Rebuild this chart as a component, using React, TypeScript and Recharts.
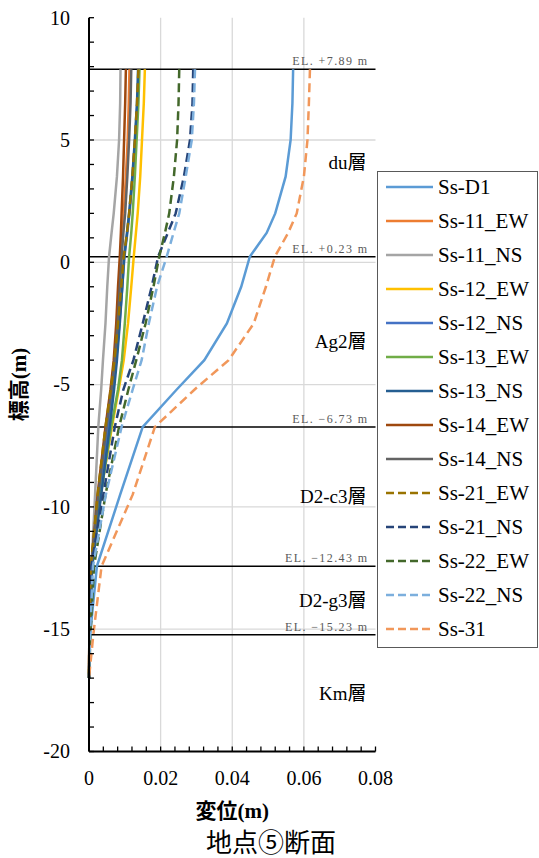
import React from 'react';
import {
  LineChart,
  Line,
  XAxis,
  YAxis,
  CartesianGrid,
  ReferenceLine,
  ReferenceDot,
  Legend,
  Label,
} from 'recharts';

// elevation (m) of every sampled point, top to bottom
const elevations = [7.89, 6.5, 5, 3.5, 2, 1.2, 0.23, -1, -2.5, -4, -5.2, -6.73, -9.5, -12.43, -15.23, -17];

// displacement (m) of each wave at those elevations
const ssD1 = [0.057, 0.0568, 0.0563, 0.0549, 0.052, 0.0496, 0.0449, 0.0425, 0.0385, 0.0322, 0.0245, 0.015, 0.0087, 0.0022, 0.0003, 0];
const ss11EW = [0.0113, 0.0111, 0.0108, 0.0103, 0.0097, 0.0094, 0.009, 0.0085, 0.0079, 0.0071, 0.0062, 0.0048, 0.0025, 0.0006, 0.0001, 0];
const ss11NS = [0.0088, 0.0087, 0.0084, 0.0078, 0.0069, 0.0063, 0.0056, 0.0051, 0.0046, 0.0039, 0.0034, 0.0026, 0.0017, 0.0007, 0.0001, 0];
const ss12EW = [0.0156, 0.0153, 0.0148, 0.0143, 0.0136, 0.0131, 0.0125, 0.0118, 0.0109, 0.0097, 0.0083, 0.0064, 0.0032, 0.0007, 0.0002, 0];
const ss12NS = [0.0139, 0.0135, 0.0129, 0.0122, 0.0113, 0.0107, 0.0099, 0.0093, 0.0085, 0.0076, 0.0067, 0.0054, 0.0031, 0.0008, 0.0002, 0];
const ss13EW = [0.0141, 0.0138, 0.0133, 0.0128, 0.0122, 0.0118, 0.0112, 0.0107, 0.01, 0.0092, 0.0081, 0.0062, 0.0033, 0.0008, 0.0002, 0];
const ss13NS = [0.0137, 0.0134, 0.0128, 0.0121, 0.0112, 0.0106, 0.0098, 0.0093, 0.0086, 0.0078, 0.007, 0.0058, 0.0034, 0.0009, 0.0002, 0];
const ss14EW = [0.0103, 0.0101, 0.0098, 0.0095, 0.0091, 0.0089, 0.0086, 0.0081, 0.0076, 0.0069, 0.006, 0.0046, 0.0024, 0.0006, 0.0001, 0];
const ss14NS = [0.0118, 0.0116, 0.0112, 0.0107, 0.0101, 0.0096, 0.0091, 0.0086, 0.008, 0.0072, 0.0063, 0.0049, 0.0026, 0.0006, 0.0001, 0];
const ss21EW = [0.0138, 0.0134, 0.0128, 0.0121, 0.0112, 0.0106, 0.0097, 0.009, 0.0081, 0.0071, 0.0061, 0.0046, 0.0024, 0.0005, 0.0001, 0];
const ss21NS = [0.0291, 0.0289, 0.0282, 0.0265, 0.0242, 0.022, 0.0193, 0.0175, 0.015, 0.0124, 0.0096, 0.0072, 0.004, 0.0006, 0.0002, 0];
const ss22EW = [0.0252, 0.025, 0.0246, 0.0237, 0.0224, 0.0212, 0.0196, 0.018, 0.0158, 0.0132, 0.011, 0.0084, 0.0046, 0.0014, 0.0004, 0];
const ss22NS = [0.0296, 0.0293, 0.0287, 0.027, 0.0252, 0.0236, 0.0217, 0.019, 0.0167, 0.0147, 0.0122, 0.0091, 0.0047, 0.0011, 0.0003, 0];
const ss31 = [0.0617, 0.0614, 0.061, 0.06, 0.058, 0.0556, 0.0519, 0.0494, 0.046, 0.039, 0.0295, 0.0184, 0.0122, 0.0035, 0.0012, 0];

const series = [
  { name: 'Ss-D1', values: ssD1, color: '#5B9BD5', dashed: false },
  { name: 'Ss-11_EW', values: ss11EW, color: '#ED7D31', dashed: false },
  { name: 'Ss-11_NS', values: ss11NS, color: '#A5A5A5', dashed: false },
  { name: 'Ss-12_EW', values: ss12EW, color: '#FFC000', dashed: false },
  { name: 'Ss-12_NS', values: ss12NS, color: '#4472C4', dashed: false },
  { name: 'Ss-13_EW', values: ss13EW, color: '#70AD47', dashed: false },
  { name: 'Ss-13_NS', values: ss13NS, color: '#255E91', dashed: false },
  { name: 'Ss-14_EW', values: ss14EW, color: '#9E480E', dashed: false },
  { name: 'Ss-14_NS', values: ss14NS, color: '#636363', dashed: false },
  { name: 'Ss-21_EW', values: ss21EW, color: '#997300', dashed: true },
  { name: 'Ss-21_NS', values: ss21NS, color: '#264478', dashed: true },
  { name: 'Ss-22_EW', values: ss22EW, color: '#43682B', dashed: true },
  { name: 'Ss-22_NS', values: ss22NS, color: '#7CAFDD', dashed: true },
  { name: 'Ss-31', values: ss31, color: '#F1975A', dashed: true },
];

// layer boundaries (top elevation of each layer) and layer names
const layerTops = [7.89, 0.23, -6.73, -12.43, -15.23];
const layerNames = ['du層', 'Ag2層', 'D2-c3層', 'D2-g3層', 'Km層'];

const yDomain = [-20, 10];
const xDomain = [0, 0.08];
const yTicks = Array.from({ length: 31 }, (_, i) => -20 + i);
const xTicks = Array.from({ length: 21 }, (_, i) => Math.round(i * 4) / 1000);

const SERIF = "'Liberation Serif', 'Noto Sans CJK JP', serif";

const rows = elevations.map((el, i) => {
  const row: Record<string, number> = { el };
  series.forEach((s, j) => {
    row['s' + j] = s.values[i];
  });
  return row;
});

const elLabel = (v: number) => `EL. ${v >= 0 ? '+' : '−'}${Math.abs(v).toFixed(2)} m`;

const YTick = (props: any) => {
  const { x, y, payload } = props;
  const v = payload.value;
  return (
    <g>
      <line x1={x} y1={y} x2={x + 5} y2={y} stroke="#000" strokeWidth={1.3} />
      {v % 5 === 0 && (
        <text x={x - 19} y={y} dy="0.34em" textAnchor="end" fontSize={20} fontFamily={SERIF} fill="#000">
          {v}
        </text>
      )}
    </g>
  );
};

const XTick = (props: any) => {
  const { x, y, payload } = props;
  const v = payload.value;
  const major = Math.round(v * 1000) % 20 === 0;
  return (
    <g>
      <line x1={x} y1={y} x2={x} y2={y - 5} stroke="#000" strokeWidth={1.3} />
      {major && (
        <text x={x} y={y + 33} textAnchor="middle" fontSize={20} fontFamily={SERIF} fill="#000">
          {v === 0 ? '0' : v.toFixed(2)}
        </text>
      )}
    </g>
  );
};

const LegendBox = () => (
  <svg width={162} height={477} style={{ display: 'block' }}>
    <rect x={0.5} y={0.5} width={160} height={476} fill="#fff" stroke="#595959" />
    {series.map((s, i) => {
      const cy = 16 + i * 34;
      return (
        <g key={s.name}>
          <line
            x1={9}
            x2={56}
            y1={cy}
            y2={cy}
            stroke={s.color}
            strokeWidth={2.5}
            strokeDasharray={s.dashed ? '8 4' : undefined}
          />
          <text x={61} y={cy} dy="0.34em" fontSize={21} fontFamily={SERIF} fill="#000">
            {s.name}
          </text>
        </g>
      );
    })}
  </svg>
);

export default function App() {
  const mids = layerTops.map((t, i) => (t + (i + 1 < layerTops.length ? layerTops[i + 1] : yDomain[0])) / 2);

  return (
    <div style={{ position: 'absolute', left: 0, top: 0, width: 539, height: 858, background: '#fff' }}>
      <LineChart
        width={539}
        height={858}
        data={rows}
        layout="vertical"
        margin={{ top: 17.7, right: 163.5, bottom: 0, left: 0 }}
      >
        <CartesianGrid
          horizontalValues={[5, 0, -5, -10, -15]}
          verticalValues={[0.02, 0.04, 0.06]}
          stroke="#d9d9d9"
          strokeWidth={1.3}
        />
        <XAxis
          type="number"
          domain={xDomain}
          ticks={xTicks}
          interval={0}
          tickSize={0}
          tickMargin={0}
          tick={<XTick />}
          height={106.5}
          axisLine={{ stroke: '#000', strokeWidth: 2 }}
        >
          <Label
            content={(p: any) => (
              <text
                x={p.viewBox.x + p.viewBox.width / 2}
                y={p.viewBox.y + 66}
                textAnchor="middle"
                fontSize={21}
                fontWeight="bold"
                fontFamily={SERIF}
              >
                変位(m)
              </text>
            )}
          />
        </XAxis>
        <YAxis
          type="number"
          dataKey="el"
          domain={yDomain}
          ticks={yTicks}
          interval={0}
          tickSize={0}
          tickMargin={0}
          tick={<YTick />}
          width={89}
          reversed
          axisLine={{ stroke: '#000', strokeWidth: 2 }}
        >
          <Label
            content={(p: any) => {
              const cx = p.viewBox.x + 19;
              const cy = p.viewBox.y + p.viewBox.height / 2;
              return (
                <text
                  x={cx}
                  y={cy}
                  transform={`rotate(-90, ${cx}, ${cy})`}
                  textAnchor="middle"
                  dy="0.34em"
                  fontSize={21}
                  fontWeight="bold"
                  fontFamily={SERIF}
                >
                  標高(m)
                </text>
              );
            }}
          />
        </YAxis>
        {layerTops.map((t) => (
          <ReferenceLine
            key={t}
            y={t}
            stroke="#000"
            strokeWidth={1.5}
            label={(p: any) => (
              <text
                x={p.viewBox.x + p.viewBox.width - 7}
                y={p.viewBox.y - 4}
                textAnchor="end"
                fontSize={12}
                letterSpacing={1.4}
                fontFamily={SERIF}
                fill="#595959"
              >
                {elLabel(t)}
              </text>
            )}
          />
        ))}
        {layerNames.map((n, i) => (
          <ReferenceDot
            key={n}
            x={xDomain[1]}
            y={mids[i]}
            r={0}
            fill="none"
            stroke="none"
            label={(p: any) => (
              <text
                x={p.viewBox.x - 9}
                y={p.viewBox.y}
                dy="0.34em"
                textAnchor="end"
                fontSize={19}
                fontFamily={SERIF}
                fill="#000"
              >
                {n}
              </text>
            )}
          />
        ))}
        {series.map((s, j) => (
          <Line
            key={s.name}
            name={s.name}
            dataKey={'s' + j}
            type="linear"
            stroke={s.color}
            strokeWidth={2.5}
            strokeDasharray={s.dashed ? '9 5' : undefined}
            dot={false}
            activeDot={false}
            isAnimationActive={false}
          />
        ))}
        <Legend
          layout="horizontal"
          verticalAlign="middle"
          align="center"
          content={() => <LegendBox />}
          wrapperStyle={{ left: 377, top: 171, width: 162, height: 477 }}
        />
      </LineChart>
      <div
        style={{
          position: 'absolute',
          left: 0,
          top: 828,
          width: 539,
          textAlign: 'center',
          fontFamily: "'Noto Sans CJK JP', sans-serif",
          fontSize: 26,
          lineHeight: '26px',
          paddingLeft: 3,
          boxSizing: 'border-box',
        }}
      >
        地点⑤断面
      </div>
    </div>
  );
}
